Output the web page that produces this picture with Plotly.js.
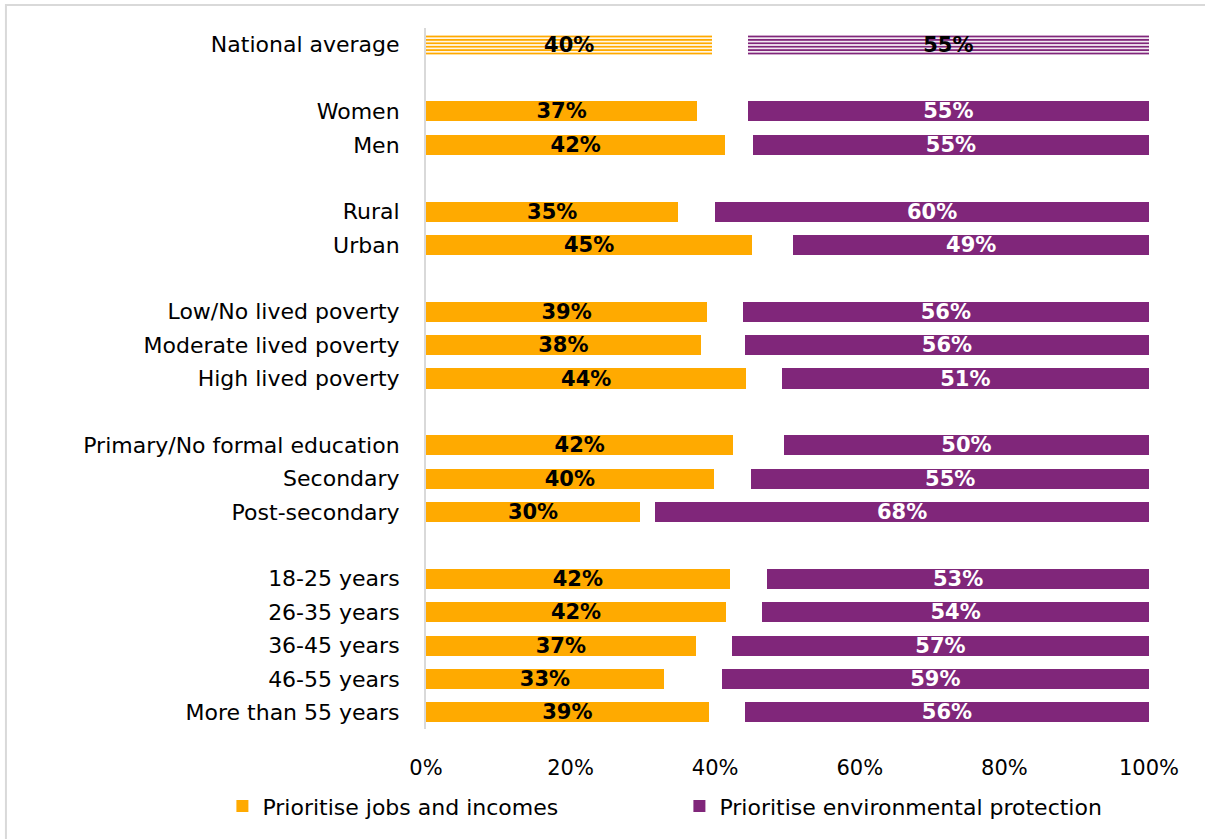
<!DOCTYPE html>
<html>
<head>
<meta charset="utf-8">
<script src="https://cdn.plot.ly/plotly-3.0.1.min.js"></script>
<style>html,body{margin:0;padding:0;background:#fff}#chart{width:1205px;height:839px}</style>
</head>
<body>
<div id="chart"></div>
<script>
// Row labels and their positions (blank rows separate groups)
const categories = ["National average","Women","Men","Rural","Urban",
  "Low/No lived poverty","Moderate lived poverty","High lived poverty",
  "Primary/No formal education","Secondary","Post-secondary",
  "18-25 years","26-35 years","36-45 years","46-55 years","More than 55 years"];
const rowPos = [0,2,3,5,6,8,9,10,12,13,14,16,17,18,19,20];

// Bar lengths (%)
const jobs = [39.6,37.5,41.4,34.9,45.1,38.9,38.0,44.3,42.5,39.8,29.6,42.0,41.5,37.3,32.9,39.1];
const env  = [55.5,55.5,54.8,60.0,49.2,56.2,55.9,50.8,50.5,55.0,68.3,52.8,53.5,57.7,59.1,55.9];

// Printed labels
const jobsLabels = ["40%","37%","42%","35%","45%","39%","38%","44%","42%","40%","30%","42%","42%","37%","33%","39%"];
const envLabels  = ["55%","55%","55%","60%","49%","56%","56%","51%","50%","55%","68%","53%","54%","57%","59%","56%"];

const seriesNames = ["Prioritise jobs and incomes","Prioritise environmental protection"];
const xTicks = [0,20,40,60,80,100];
const xTickText = ["0%","20%","40%","60%","80%","100%"];

const ORANGE = "#FFAA00", PURPLE = "#80267A";
const FONT = "'DejaVu Sans', sans-serif";

const gap = jobs.map((j,i)=>100 - j - env[i]);

const base = {type:"bar", orientation:"h", width:0.6, textposition:"inside",
  insidetextanchor:"middle", constraintext:"none", hoverinfo:"skip", cliponaxis:false};

const traces = [
  Object.assign({}, base, {
    y:rowPos.slice(1), x:jobs.slice(1), text:jobsLabels.slice(1), name:seriesNames[0],
    marker:{color:ORANGE, line:{width:0}},
    textfont:{family:FONT, size:21, color:"#000", weight:"bold"}
  }),
  Object.assign({}, base, {
    y:rowPos.slice(1), x:gap.slice(1), text:gap.slice(1).map(()=>""), showlegend:false, name:"gap",
    marker:{color:"rgba(0,0,0,0)", line:{width:0}}
  }),
  Object.assign({}, base, {
    y:rowPos.slice(1), x:env.slice(1), text:envLabels.slice(1), name:seriesNames[1],
    marker:{color:PURPLE, line:{width:0}},
    textfont:{family:FONT, size:21, color:"#fff", weight:"bold"}
  }),
  // National average (patterned)
  Object.assign({}, base, {
    y:[rowPos[0]], x:[jobs[0]], text:[jobsLabels[0]], showlegend:false, name:seriesNames[0],
    marker:{color:"#ffffff", line:{width:0}, pattern:{shape:"-", fgcolor:ORANGE, bgcolor:"#ffffff", size:3.4, solidity:0.55, fillmode:"replace"}},
    textfont:{family:FONT, size:21, color:"#000", weight:"bold"}
  }),
  Object.assign({}, base, {
    y:[rowPos[0]], x:[gap[0]], text:[""], showlegend:false, name:"gap",
    marker:{color:"rgba(0,0,0,0)", line:{width:0}}
  }),
  Object.assign({}, base, {
    y:[rowPos[0]], x:[env[0]], text:[envLabels[0]], showlegend:false, name:seriesNames[1],
    marker:{color:"#ffffff", line:{width:0}, pattern:{shape:"-", fgcolor:PURPLE, bgcolor:"#ffffff", size:3.4, solidity:0.55, fillmode:"replace"}},
    textfont:{family:FONT, size:21, color:"#000", weight:"bold"}
  })
];

const layout = {
  width:1205, height:839,
  paper_bgcolor:"#fff", plot_bgcolor:"#fff",
  barmode:"stack",
  margin:{l:426, r:56, t:28, b:108, pad:0},
  font:{family:FONT, size:22, color:"#000"},
  xaxis:{range:[0,100], tickvals:xTicks, ticktext:xTickText, showgrid:false, zeroline:false,
    showline:false, ticks:"", tickfont:{family:FONT, size:21, color:"#000"}, ticklabelstandoff:24, fixedrange:true},
  yaxis:{range:[20.5,-0.5], tickvals:rowPos, ticktext:categories, showgrid:false, zeroline:false,
    showline:true, linecolor:"#d9d9d9", linewidth:2, ticks:"", ticklabelstandoff:20,
    tickfont:{family:FONT, size:22, color:"#000"}, fixedrange:true},
  showlegend:true,
  legend:{orientation:"h", traceorder:"normal", x:-0.2816, xanchor:"left", y:-0.11, yanchor:"middle",
    font:{family:FONT, size:22, color:"#000"}, itemwidth:30, tracegroupgap:0,
    entrywidth:412, itemclick:false, itemdoubleclick:false},
  shapes:[{type:"rect", xref:"paper", yref:"paper", x0:-0.581, x1:2, y0:-1, y1:1.0327,
    line:{color:"#d9d9d9", width:2}, fillcolor:"rgba(0,0,0,0)", layer:"below"}]
};

Plotly.newPlot("chart", traces, layout, {displayModeBar:false, staticPlot:true});
</script>
</body>
</html>
